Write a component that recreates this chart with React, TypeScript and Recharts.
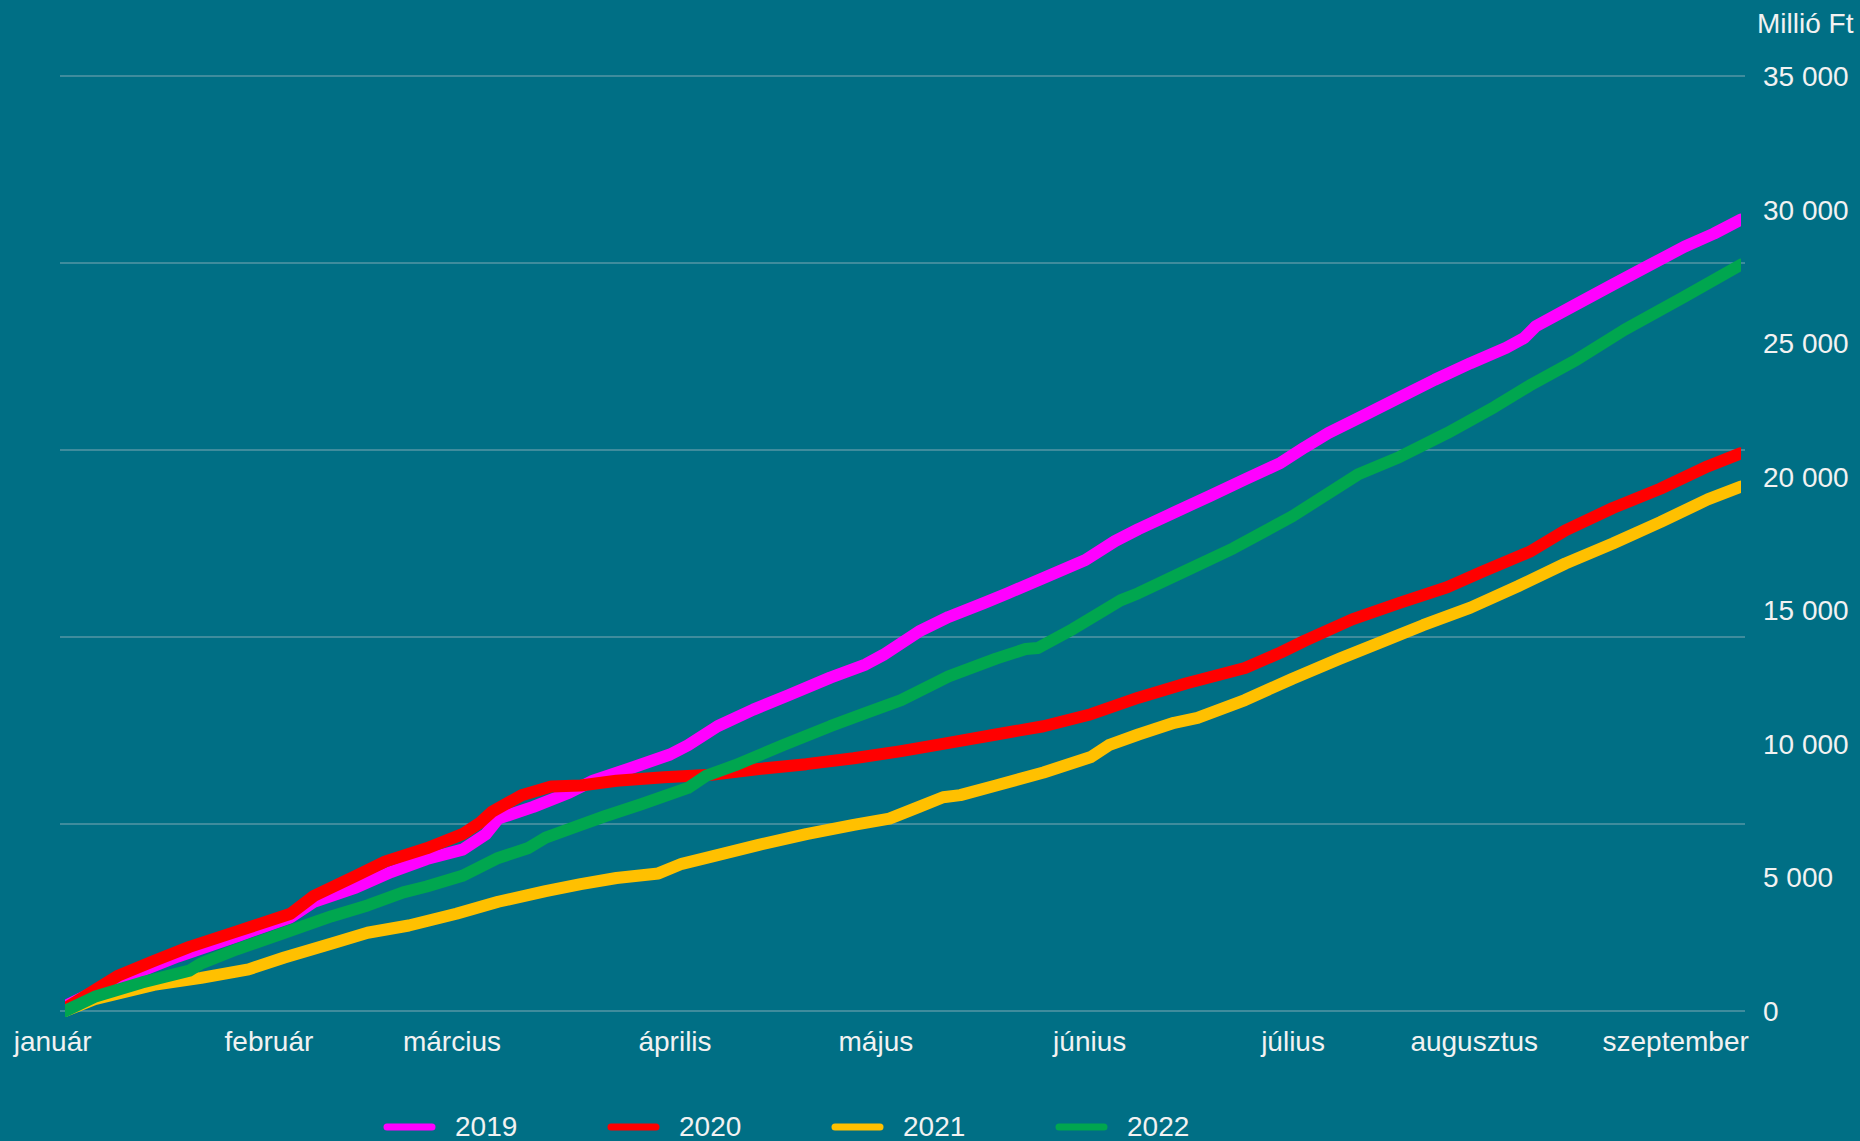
import React from 'react';
import { LineChart, Line, XAxis, YAxis, CartesianGrid, Legend } from 'recharts';

const FONT = "'Liberation Sans', Arial, sans-serif";
const TEXT = '#F2F2F2';
const BG = '#006F85';

const monthTicks = [-2, 33.1, 62.8, 99.0, 131.6, 166.3, 199.3, 228.7, 261.4];
const monthLabels = ['január', 'február', 'március', 'április', 'május', 'június', 'július', 'augusztus', 'szeptember'];
const yTicks = [0, 5000, 10000, 15000, 20000, 25000, 30000, 35000];
const gridValues = [0, 7000, 14000, 21000, 28000, 35000];

const days2019 = [0, 8.7, 18.3, 27.9, 36.6, 40.4, 47.2, 52.9, 58.7, 64.5, 68.3, 70.3, 76.0, 81.8, 85.7, 91.4, 98.2, 101.1, 105.9, 111.7, 117.4, 124.2, 129.9, 132.8, 138.6, 143.4, 149.2, 153.0, 158.8, 165.6, 170.4, 174.2, 180.0, 185.8, 191.5, 197.3, 201.2, 205.0, 210.8, 216.6, 222.3, 228.1, 233.9, 236.8, 238.7, 245.4, 251.2, 257.0, 262.8, 267.6, 272];
const values2019 = [180, 1160, 2040, 2800, 3510, 4090, 4620, 5200, 5690, 6040, 6620, 7200, 7640, 8170, 8620, 9060, 9600, 9950, 10660, 11280, 11820, 12480, 12970, 13330, 14210, 14750, 15280, 15640, 16210, 16880, 17590, 18040, 18660, 19280, 19900, 20520, 21100, 21630, 22300, 22970, 23630, 24250, 24830, 25190, 25630, 26470, 27190, 27900, 28610, 29100, 29630];

const days2020 = [0, 8.7, 14.4, 20.2, 27.9, 36.6, 40.4, 47.2, 52.0, 58.7, 64.5, 67.4, 69.3, 74.1, 78.9, 83.7, 89.5, 97.2, 104.9, 112.6, 120.3, 128.0, 135.7, 143.4, 151.1, 158.8, 166.5, 174.2, 181.9, 191.5, 197.3, 201.2, 208.9, 216.6, 224.3, 230.0, 237.7, 243.5, 251.2, 258.9, 266.6, 272];
const values2020 = [90, 1330, 1870, 2400, 2980, 3640, 4310, 5060, 5600, 6090, 6620, 7060, 7460, 8080, 8400, 8440, 8620, 8750, 8840, 9060, 9240, 9460, 9730, 10040, 10350, 10660, 11110, 11730, 12260, 12840, 13420, 13860, 14660, 15280, 15860, 16440, 17190, 17990, 18830, 19550, 20390, 20880];

const days2021 = [0, 4.8, 14.4, 22.1, 29.8, 35.6, 43.3, 49.1, 55.8, 63.5, 70.3, 78.0, 83.7, 89.5, 96.3, 100.1, 104.9, 112.6, 120.3, 128.0, 133.8, 138.6, 142.5, 145.3, 151.1, 158.8, 166.5, 169.4, 174.2, 180.0, 183.8, 191.5, 199.2, 206.9, 214.6, 220.4, 228.1, 235.8, 243.5, 251.2, 258.9, 266.6, 272];
const values2021 = [0, 440, 980, 1240, 1560, 2000, 2530, 2930, 3200, 3640, 4090, 4490, 4750, 4980, 5150, 5510, 5780, 6220, 6620, 6970, 7200, 7640, 8000, 8080, 8440, 8930, 9510, 9950, 10350, 10790, 10970, 11640, 12440, 13190, 13900, 14440, 15100, 15900, 16750, 17500, 18300, 19150, 19630];

const days2022 = [0, 4.8, 12.5, 20.2, 22.1, 27.9, 35.6, 43.3, 49.1, 54.9, 58.7, 64.5, 70.3, 75.1, 78.0, 83.7, 87.6, 93.4, 101.1, 104.0, 108.8, 116.5, 124.2, 129.9, 135.7, 143.4, 151.1, 155.9, 157.9, 163.6, 168.4, 171.3, 174.2, 181.9, 189.6, 199.2, 209.8, 216.6, 224.3, 232.0, 237.7, 245.4, 253.1, 262.8, 272];
const values2022 = [0, 530, 1070, 1510, 1780, 2310, 2930, 3550, 3950, 4440, 4660, 5060, 5730, 6090, 6490, 6970, 7290, 7730, 8350, 8800, 9200, 9950, 10660, 11150, 11640, 12530, 13190, 13550, 13590, 14300, 14970, 15370, 15640, 16480, 17320, 18520, 20080, 20740, 21630, 22610, 23410, 24390, 25500, 26740, 27940];

const zip = (d: number[], v: number[]) => d.map((day, i) => ({ day, value: v[i] }));

const series = [
  { name: '2019', color: '#FF00FF', data: zip(days2019, values2019) },
  { name: '2020', color: '#FF0000', data: zip(days2020, values2020) },
  { name: '2021', color: '#FFC000', data: zip(days2021, values2021) },
  { name: '2022', color: '#00A64F', data: zip(days2022, values2022) },
];

const fmt = (v: number) => String(v).replace(/\B(?=(\d{3})+(?!\d))/g, ' ');

const renderLegend = (props: any) => {
  const payload = props.payload || [];
  return (
    <div style={{ display: 'flex' }}>
      {payload.map((p: any) => (
        <div key={p.value} style={{ width: 224, height: 40, display: 'flex', alignItems: 'center' }}>
          <svg width={53} height={12} style={{ display: 'block' }}>
            <line x1={4} y1={6} x2={49} y2={6} stroke={p.color} strokeWidth={7} strokeLinecap="round" />
          </svg>
          <span style={{ marginLeft: 19, color: TEXT, fontSize: 28, fontFamily: FONT, lineHeight: '32px' }}>{p.value}</span>
        </div>
      ))}
    </div>
  );
};

export default function App() {
  return (
    <div style={{ position: 'absolute', left: 0, top: 0, width: 1860, height: 1141, background: BG, overflow: 'hidden' }}>
      <div style={{ position: 'absolute', left: 1757, top: 8, color: TEXT, fontSize: 28, fontFamily: FONT, lineHeight: '32px', whiteSpace: 'nowrap' }}>
        Millió Ft
      </div>
      <LineChart width={1860} height={1141} margin={{ top: 76, right: 15, bottom: 70, left: 60 }}>
        <CartesianGrid horizontal={true} vertical={false} stroke="#7FA9B5" strokeWidth={1.2} horizontalValues={gridValues} />
        <XAxis
          type="number"
          dataKey="day"
          domain={[0, 272]}
          ticks={monthTicks}
          interval={0}
          allowDataOverflow
          padding={{ left: 5, right: 4 }}
          axisLine={false}
          tickLine={false}
          tickMargin={14}
          height={60}
          tickFormatter={(v: number) => monthLabels[monthTicks.indexOf(v)] ?? ''}
          tick={{ fill: TEXT, fontSize: 28, fontFamily: FONT }}
        />
        <YAxis
          orientation="right"
          type="number"
          domain={[0, 35000]}
          ticks={yTicks}
          interval={0}
          width={100}
          axisLine={false}
          tickLine={false}
          tickMargin={12}
          tickFormatter={fmt}
          tick={{ fill: TEXT, fontSize: 28, fontFamily: FONT, textAnchor: 'start' }}
        />
        {series.map((s) => (
          <Line
            key={s.name}
            data={s.data}
            dataKey="value"
            name={s.name}
            type="linear"
            stroke={s.color}
            strokeWidth={12}
            strokeLinecap="round"
            strokeLinejoin="round"
            dot={false}
            activeDot={false}
            isAnimationActive={false}
          />
        ))}
        <Legend
          content={renderLegend}
          wrapperStyle={{ position: 'absolute', left: 383, top: 1107, width: 1000, height: 0, bottom: 'auto' }}
        />
      </LineChart>
    </div>
  );
}
